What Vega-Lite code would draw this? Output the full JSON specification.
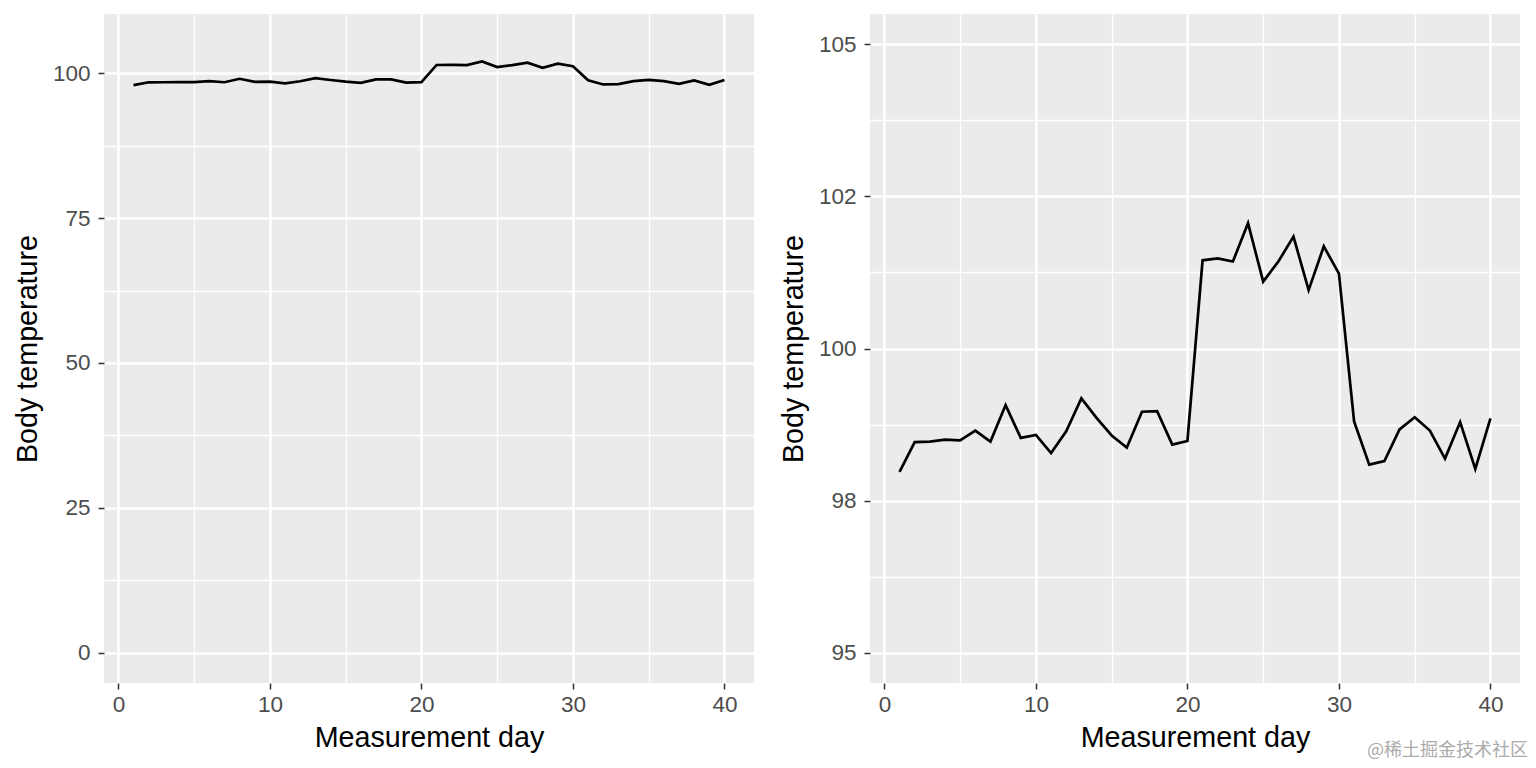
{
  "$schema": "https://vega.github.io/schema/vega-lite/v6.json",
  "padding": {"left": 13, "top": 14, "right": 15, "bottom": 2},
  "autosize": {"type": "pad"},
  "background": "white",
  "data": {"values": [
    {"day": 1, "temp": 97.97}, {"day": 2, "temp": 98.46}, {"day": 3, "temp": 98.47}, {"day": 4, "temp": 98.5},
    {"day": 5, "temp": 98.49}, {"day": 6, "temp": 98.65}, {"day": 7, "temp": 98.47}, {"day": 8, "temp": 99.07},
    {"day": 9, "temp": 98.53}, {"day": 10, "temp": 98.58}, {"day": 11, "temp": 98.28}, {"day": 12, "temp": 98.64},
    {"day": 13, "temp": 99.18}, {"day": 14, "temp": 98.86}, {"day": 15, "temp": 98.57}, {"day": 16, "temp": 98.37},
    {"day": 17, "temp": 98.96}, {"day": 18, "temp": 98.97}, {"day": 19, "temp": 98.42}, {"day": 20, "temp": 98.48},
    {"day": 21, "temp": 101.45}, {"day": 22, "temp": 101.48}, {"day": 23, "temp": 101.43}, {"day": 24, "temp": 102.06},
    {"day": 25, "temp": 101.1}, {"day": 26, "temp": 101.43}, {"day": 27, "temp": 101.84}, {"day": 28, "temp": 100.96},
    {"day": 29, "temp": 101.68}, {"day": 30, "temp": 101.23}, {"day": 31, "temp": 98.8}, {"day": 32, "temp": 98.09},
    {"day": 33, "temp": 98.15}, {"day": 34, "temp": 98.67}, {"day": 35, "temp": 98.87}, {"day": 36, "temp": 98.65},
    {"day": 37, "temp": 98.19}, {"day": 38, "temp": 98.79}, {"day": 39, "temp": 98.02}, {"day": 40, "temp": 98.85}
  ]},
  "spacing": 25,
  "title": {"text": "@稀土掘金技术社区", "orient": "bottom", "anchor": "end", "fontSize": 18, "color": "#ababab", "font": "Noto Sans CJK SC", "fontWeight": "normal", "offset": -10, "dx": 8},
  "config": {
    "font": "Liberation Sans",
    "view": {"fill": "#EBEBEB", "stroke": null},
    "axis": {
      "domain": false,
      "gridColor": "white",
      "tickColor": "#333333",
      "tickWidth": 1.5,
      "tickSize": 6,
      "labelColor": "#4D4D4D",
      "labelFontSize": 22.5,
      "labelFont": "Liberation Sans",
      "titleFont": "Liberation Sans",
      "titleFontSize": 28.7,
      "titleFontWeight": "normal",
      "titleColor": "black",
      "labelPadding": 8,
      "titlePadding": 10,
      "labelOverlap": false,
      "labelFlush": false
    },
    "axisX": {"labelPadding": 4, "titlePadding": 8}
  },
  "hconcat": [
    {
      "width": 650,
      "height": 669,
      "mark": {"type": "line", "color": "black", "strokeWidth": 2.7},
      "encoding": {
        "x": {
          "field": "day", "type": "quantitative",
          "scale": {"domain": [-0.95, 41.95], "nice": false, "zero": false},
          "axis": {
            "title": "Measurement day",
            "values": [0, 5, 10, 15, 20, 25, 30, 35, 40],
            "labelExpr": "datum.value % 10 === 0 ? datum.label : ''",
            "gridWidth": {"condition": {"test": "datum.value % 10 === 0", "value": 2.6}, "value": 1.3},
            "tickOpacity": {"condition": {"test": "datum.value % 10 === 0", "value": 1}, "value": 0}
          }
        },
        "y": {
          "field": "temp", "type": "quantitative",
          "scale": {"domain": [-5.25, 110.25], "nice": false, "zero": false},
          "axis": {
            "title": "Body temperature",
            "values": [0, 12.5, 25, 37.5, 50, 62.5, 75, 87.5, 100],
            "labelExpr": "datum.value % 25 === 0 ? datum.label : ''",
            "gridWidth": {"condition": {"test": "datum.value % 25 === 0", "value": 2.6}, "value": 1.3},
            "tickOpacity": {"condition": {"test": "datum.value % 25 === 0", "value": 1}, "value": 0}
          }
        }
      }
    },
    {
      "width": 650,
      "height": 669,
      "mark": {"type": "line", "color": "black", "strokeWidth": 2.7},
      "encoding": {
        "x": {
          "field": "day", "type": "quantitative",
          "scale": {"domain": [-0.95, 41.95], "nice": false, "zero": false},
          "axis": {
            "title": "Measurement day",
            "values": [0, 5, 10, 15, 20, 25, 30, 35, 40],
            "labelExpr": "datum.value % 10 === 0 ? datum.label : ''",
            "gridWidth": {"condition": {"test": "datum.value % 10 === 0", "value": 2.6}, "value": 1.3},
            "tickOpacity": {"condition": {"test": "datum.value % 10 === 0", "value": 1}, "value": 0}
          }
        },
        "y": {
          "field": "temp", "type": "quantitative",
          "scale": {"domain": [94.5, 105.5], "nice": false, "zero": false},
          "axis": {
            "title": "Body temperature",
            "values": [95, 96.25, 97.5, 98.75, 100, 101.25, 102.5, 103.75, 105],
            "labelExpr": "datum.value === 97.5 ? '98' : datum.value === 102.5 ? '102' : (datum.value % 2.5 === 0 ? datum.label : '')",
            "gridWidth": {"condition": {"test": "datum.value % 2.5 === 0", "value": 2.6}, "value": 1.3},
            "tickOpacity": {"condition": {"test": "datum.value % 2.5 === 0", "value": 1}, "value": 0}
          }
        }
      }
    }
  ]
}
